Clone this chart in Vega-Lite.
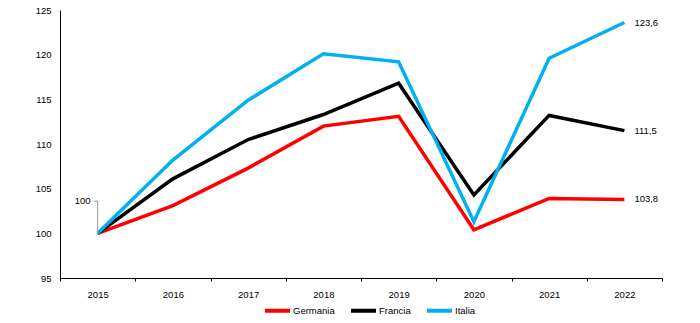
{
  "$schema": "https://vega.github.io/schema/vega-lite/v6.json",
  "width": 602,
  "height": 268,
  "autosize": {"type": "none"},
  "padding": {"left": 60, "top": 10, "right": 38, "bottom": 45},
  "config": {
    "view": {"stroke": null},
    "font": "Liberation Sans",
    "axis": {"labelFont": "Liberation Sans", "labelFontSize": 9.5, "labelColor": "#000", "domainColor": "#000", "tickColor": "#000", "grid": false, "title": null},
    "legend": {"labelFont": "Liberation Sans", "labelFontSize": 9.5, "labelColor": "#000"}
  },
  "datasets": {
    "series": [
      {"anno": "2015", "paese": "Germania", "valore": 100},
      {"anno": "2016", "paese": "Germania", "valore": 103.1},
      {"anno": "2017", "paese": "Germania", "valore": 107.3},
      {"anno": "2018", "paese": "Germania", "valore": 112.0},
      {"anno": "2019", "paese": "Germania", "valore": 113.1},
      {"anno": "2020", "paese": "Germania", "valore": 100.4},
      {"anno": "2021", "paese": "Germania", "valore": 103.9},
      {"anno": "2022", "paese": "Germania", "valore": 103.8},
      {"anno": "2015", "paese": "Francia", "valore": 100},
      {"anno": "2016", "paese": "Francia", "valore": 106.1},
      {"anno": "2017", "paese": "Francia", "valore": 110.5},
      {"anno": "2018", "paese": "Francia", "valore": 113.3},
      {"anno": "2019", "paese": "Francia", "valore": 116.8},
      {"anno": "2020", "paese": "Francia", "valore": 104.3},
      {"anno": "2021", "paese": "Francia", "valore": 113.2},
      {"anno": "2022", "paese": "Francia", "valore": 111.5},
      {"anno": "2015", "paese": "Italia", "valore": 100},
      {"anno": "2016", "paese": "Italia", "valore": 108.2},
      {"anno": "2017", "paese": "Italia", "valore": 114.9},
      {"anno": "2018", "paese": "Italia", "valore": 120.1},
      {"anno": "2019", "paese": "Italia", "valore": 119.2},
      {"anno": "2020", "paese": "Italia", "valore": 101.3},
      {"anno": "2021", "paese": "Italia", "valore": 119.6},
      {"anno": "2022", "paese": "Italia", "valore": 123.6}
    ],
    "fine": [
      {"anno": "2022", "valore": 123.6, "etichetta": "123,6"},
      {"anno": "2022", "valore": 111.5, "etichetta": "111,5"},
      {"anno": "2022", "valore": 103.8, "etichetta": "103,8"}
    ],
    "inizio": [
      {"anno": "2015", "valore": 100, "valore2": 103.6, "etichetta": "100"}
    ]
  },
  "layer": [
    {
      "data": {"name": "series"},
      "mark": {"type": "line", "strokeWidth": 3.5},
      "encoding": {
        "x": {"field": "anno", "type": "ordinal", "scale": {"type": "band", "paddingInner": 0, "paddingOuter": 0},
              "axis": {"labelAngle": 0, "tickBand": "extent", "tickSize": 3, "labelPadding": 8, "domainWidth": 1}},
        "y": {"field": "valore", "type": "quantitative", "scale": {"domain": [95, 125], "nice": false, "zero": false},
              "axis": {"values": [95, 100, 105, 110, 115, 120, 125], "ticks": false, "labelPadding": 9}},
        "color": {"field": "paese", "type": "nominal",
                  "scale": {"domain": ["Germania", "Francia", "Italia"], "range": ["#FF0000", "#000000", "#00B0F0"]},
                  "legend": {"orient": "none", "legendX": 203, "legendY": 286, "direction": "horizontal", "title": null, "symbolType": "stroke", "symbolSize": 625, "symbolStrokeWidth": 4, "labelOffset": 1, "columnPadding": 8}}
      }
    },
    {
      "data": {"name": "fine"},
      "mark": {"type": "text", "align": "left", "dx": 10, "fontSize": 9.5, "baseline": "middle"},
      "encoding": {
        "x": {"field": "anno", "type": "ordinal"},
        "y": {"field": "valore", "type": "quantitative"},
        "text": {"field": "etichetta"}
      }
    },
    {
      "data": {"name": "inizio"},
      "mark": {"type": "rule", "color": "#9a9a9a", "strokeWidth": 1},
      "encoding": {
        "x": {"field": "anno", "type": "ordinal"},
        "y": {"field": "valore", "type": "quantitative"},
        "y2": {"field": "valore2"}
      }
    },
    {
      "data": {"name": "inizio"},
      "mark": {"type": "rule", "color": "#9a9a9a", "strokeWidth": 1, "xOffset": -4},
      "encoding": {
        "x": {"field": "anno", "type": "ordinal"},
        "x2": {"field": "anno"},
        "y": {"field": "valore2", "type": "quantitative"}
      }
    },
    {
      "data": {"name": "inizio"},
      "mark": {"type": "text", "align": "right", "dx": -7, "fontSize": 9.5, "baseline": "middle"},
      "encoding": {
        "x": {"field": "anno", "type": "ordinal"},
        "y": {"field": "valore2", "type": "quantitative"},
        "text": {"field": "etichetta"}
      }
    }
  ]
}
